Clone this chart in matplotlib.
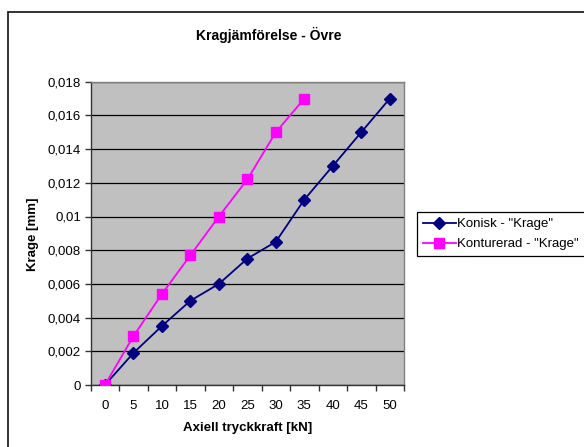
import matplotlib
matplotlib.use("Agg")
import matplotlib.pyplot as plt
from matplotlib.patches import Rectangle
from matplotlib.ticker import FixedLocator, FuncFormatter

plt.rcParams['font.family'] = ['Liberation Sans', 'DejaVu Sans']

categories = [0, 5, 10, 15, 20, 25, 30, 35, 40, 45, 50]
konisk = [0, 0.0019, 0.0035, 0.005, 0.006, 0.0075, 0.0085, 0.011, 0.013, 0.015, 0.017]
konturerad = [0, 0.0029, 0.0054, 0.0077, 0.010, 0.0122, 0.015, 0.017]
yticks = [0, 0.002, 0.004, 0.006, 0.008, 0.010, 0.012, 0.014, 0.016, 0.018]

W, H = 584, 447
FS = 9.5
fig = plt.figure(figsize=(W / 100, H / 100), dpi=100)
fig.patch.set_facecolor('white')

# outer chart border
fig.patches.append(Rectangle((8 / W, -0.05), 1.1, 1 - 12 / H + 0.05, transform=fig.transFigure,
                             fill=False, edgecolor='#222222', linewidth=1.3, zorder=0))

left, right, top, bottom = 90.7, 404, 81.7, 385
ax = fig.add_axes([left / W, 1 - bottom / H, (right - left) / W, (bottom - top) / H])
ax.set_facecolor('#C0C0C0')

xi = list(range(len(categories)))
ax.plot(xi, konisk, color='#000080', marker='D', markersize=6, linewidth=1.3,
        label='Konisk - "Krage"', zorder=3)
ax.plot(xi[:len(konturerad)], konturerad, color='#FF00FF', marker='s', markersize=7.5,
        linewidth=1.3, label='Konturerad - "Krage"', zorder=4)

ax.set_xlim(-0.5, len(categories) - 0.5)
ax.set_ylim(0, 0.018)

ax.xaxis.set_major_locator(FixedLocator(xi))
ax.set_xticklabels([str(c) for c in categories])
ax.xaxis.set_minor_locator(FixedLocator([i - 0.5 for i in range(len(categories) + 1)]))
ax.tick_params(axis='x', which='major', length=0, pad=11, labelsize=FS)
ax.tick_params(axis='x', which='minor', length=4, width=1, color='#333333', direction='out')

ax.yaxis.set_major_locator(FixedLocator(yticks))
ax.yaxis.set_major_formatter(FuncFormatter(lambda v, p: ('%g' % round(v, 3)).replace('.', ',')))
ax.tick_params(axis='y', which='major', length=4, width=1, color='#333333', direction='out',
               pad=3, labelsize=FS)
ax.grid(axis='y', color='black', linewidth=0.9, zorder=1)
ax.set_axisbelow(True)

for s in ['top', 'right']:
    ax.spines[s].set_color('#808080')
    ax.spines[s].set_linewidth(1)
for s in ['left', 'bottom']:
    ax.spines[s].set_color('#333333')
    ax.spines[s].set_linewidth(1)

fig.text(269 / W, 1 - 35 / H, 'Kragjämförelse - Övre', ha='center', va='center',
         fontsize=10, fontweight='bold')
fig.text(248 / W, 1 - 428 / H, 'Axiell tryckkraft [kN]', ha='center', va='center',
         fontsize=FS, fontweight='bold')
fig.text(33 / W, 1 - 234 / H, 'Krage [mm]', ha='center', va='center', rotation=90,
         fontsize=FS, fontweight='bold')

leg = fig.legend(loc='upper left', bbox_to_anchor=(417 / W, 1 - 212 / H), fontsize=FS,
                 frameon=True, fancybox=False, edgecolor='black', framealpha=1,
                 handlelength=2.5, handletextpad=0.1, borderpad=0.45, labelspacing=0.6,
                 borderaxespad=0)
leg.get_frame().set_linewidth(0.9)

fig.savefig('out.png', dpi=100)
